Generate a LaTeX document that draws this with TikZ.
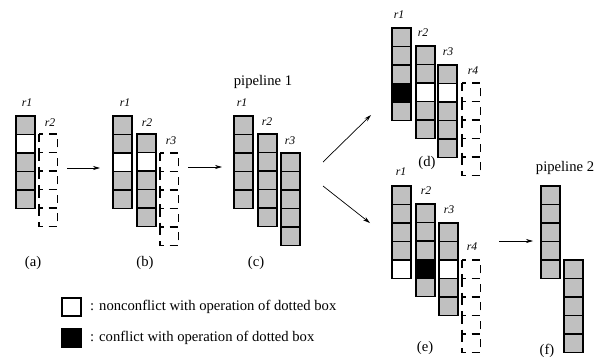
\documentclass[tikz,border=0pt]{standalone}
\usepackage{fontspec}
\setmainfont{Liberation Serif}
\usetikzlibrary{arrows.meta}

\definecolor{cellgray}{RGB}{192,192,192}
\tikzset{
  cell/.style={draw=black, line width=1.1pt},
  dotcell/.style={draw=black, line width=0.9pt, dash pattern=on 7pt off 5pt},
  flow/.style={-{Stealth[length=6pt,width=3.5pt]}, line width=0.6pt},
  reg/.style={font=\itshape, inner sep=0pt},
  caption/.style={inner sep=0pt},
}
% stack of cells: left x, top y, list of fills
\newcommand{\cellstack}[3]{%
  \foreach \f [count=\i from 0] in {#3}
    \draw[cell, fill=\f] (#1, #2+\i*18.5) rectangle ++(19, 18.5);
}
% dotted stack of five cells: left x, top y
\newcommand{\dotstack}[2]{%
  \foreach \i in {0,...,4}
    \draw[dotcell] (#1, #2+\i*18.5) rectangle ++(18.5, 18.5);
}

\begin{document}
\begin{tikzpicture}[x=0.03cm, y=-0.03cm, font=\fontsize{12.5}{14}\selectfont]
  \useasboundingbox (0,0) rectangle (601,356);

  % (a)
  \cellstack{16}{116}{cellgray,white,cellgray,cellgray,cellgray}
  \dotstack{39}{134}
  \node[reg] (a1) at (27,103) {r1};
  \node[reg] (a2) at (50,123) {r2};
  \node[caption] (capa) at (33,263) {(a)};

  % (b)
  \cellstack{113}{116}{cellgray,cellgray,white,cellgray,cellgray}
  \cellstack{137}{134}{cellgray,white,cellgray,cellgray,cellgray}
  \dotstack{160}{153}
  \node[reg] (b1) at (125,103) {r1};
  \node[reg] (b2) at (147,123) {r2};
  \node[reg] (b3) at (171,141) {r3};
  \node[caption] (capb) at (145,263) {(b)};

  % (c)
  \cellstack{234}{116}{cellgray,cellgray,cellgray,cellgray,cellgray}
  \cellstack{258}{134}{cellgray,cellgray,cellgray,cellgray,cellgray}
  \cellstack{281}{153}{cellgray,cellgray,cellgray,cellgray,cellgray}
  \node[reg] (c1) at (242,103) {r1};
  \node[reg] (c2) at (267,122) {r2};
  \node[reg] (c3) at (290,141) {r3};
  \node[caption] (pipe1) at (263,82) {pipeline 1};
  \node[caption] (capc) at (256,263) {(c)};

  % (d)
  \cellstack{392}{28}{cellgray,cellgray,cellgray,black,cellgray}
  \cellstack{416}{46}{cellgray,cellgray,white,cellgray,cellgray}
  \cellstack{438}{65}{cellgray,white,cellgray,cellgray,cellgray}
  \dotstack{462}{83}
  \node[reg] (d1) at (399,15) {r1};
  \node[reg] (d2) at (423,33) {r2};
  \node[reg] (d3) at (448,52) {r3};
  \node[reg] (d4) at (473,71) {r4};
  \node[caption] (capd) at (427,163) {(d)};

  % (e)
  \cellstack{392}{186}{cellgray,cellgray,cellgray,cellgray,white}
  \cellstack{416}{204}{cellgray,cellgray,cellgray,black,cellgray}
  \cellstack{439}{223}{cellgray,cellgray,white,cellgray,cellgray}
  \dotstack{462}{260}
  \node[reg] (e1) at (401,172) {r1};
  \node[reg] (e2) at (426,191) {r2};
  \node[reg] (e3) at (449,210) {r3};
  \node[reg] (e4) at (472,247) {r4};
  \node[caption] (cape) at (425,348) {(e)};

  % (f)
  \cellstack{541}{186}{cellgray,cellgray,cellgray,cellgray,cellgray}
  \cellstack{564}{260}{cellgray,cellgray,cellgray,cellgray,cellgray}
  \node[caption] (pipe2) at (565,168) {pipeline 2};
  \node[caption] (capf) at (547,351) {(f)};

  % arrows
  \coordinate (ab0) at (67,168);  \coordinate (ab1) at (100,168);
  \coordinate (bc0) at (188,167); \coordinate (bc1) at (222,167);
  \coordinate (cd0) at (323,162); \coordinate (cd1) at (371,115);
  \coordinate (ce0) at (323,186); \coordinate (ce1) at (370,223);
  \coordinate (ef0) at (499,241); \coordinate (ef1) at (533,241);
  \draw[flow] (ab0) -- (ab1);
  \draw[flow] (bc0) -- (bc1);
  \draw[flow] (cd0) -- (cd1);
  \draw[flow] (ce0) -- (ce1);
  \draw[flow] (ef0) -- (ef1);

  % legend
  \draw[cell, fill=white] (62,298) rectangle (81,316);
  \draw[cell, fill=black] (62,329) rectangle (81,347);
  \node[caption, anchor=west] (leg1) at (90,307) {: nonconflict with operation of dotted box};
  \node[caption, anchor=west] (leg2) at (90,338) {: conflict with operation of dotted box};
\end{tikzpicture}
\end{document}
